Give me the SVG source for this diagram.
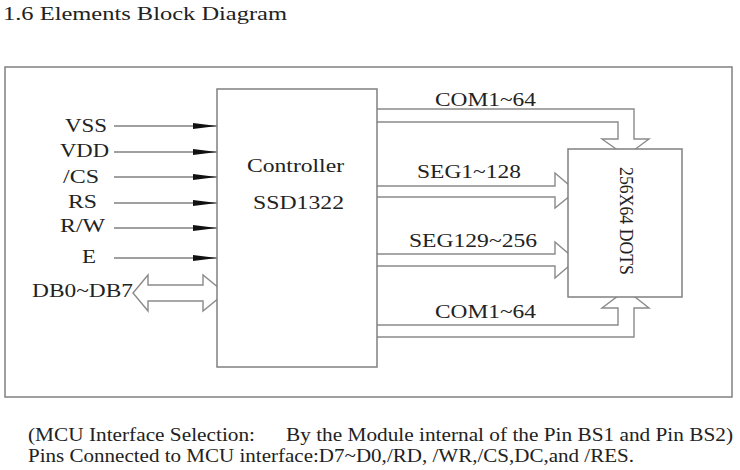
<svg xmlns="http://www.w3.org/2000/svg" width="740" height="470" viewBox="0 0 740 470">
<style>
text{font-family:"Liberation Serif","Times New Roman",serif;fill:#222;font-size:19px}
.box{fill:#fff;stroke:#808080;stroke-width:1.5}
.ln{stroke:#808080;stroke-width:1.4;fill:none}
.hollow{fill:#fff;stroke:#8a8a8a;stroke-width:1.4;stroke-linejoin:miter}
</style>
<defs>
<marker id="ah" markerUnits="userSpaceOnUse" markerWidth="26" markerHeight="8" refX="24" refY="4" orient="auto">
<path d="M0,1 L24,4 L0,7 Z" fill="#111"/>
</marker>
</defs>
<rect width="740" height="470" fill="#fff"/>
<text x="3" y="20" font-size="20" textLength="284" lengthAdjust="spacingAndGlyphs">1.6 Elements Block Diagram</text>
<g id="frame"><rect class="box" x="5" y="67" width="727" height="330"/></g>
<g id="connectors">
<line class="ln" x1="114" y1="126" x2="217" y2="126" marker-end="url(#ah)"/>
<line class="ln" x1="114" y1="152" x2="217" y2="152" marker-end="url(#ah)"/>
<line class="ln" x1="114" y1="177" x2="217" y2="177" marker-end="url(#ah)"/>
<line class="ln" x1="114" y1="203" x2="217" y2="203" marker-end="url(#ah)"/>
<line class="ln" x1="114" y1="228" x2="217" y2="228" marker-end="url(#ah)"/>
<line class="ln" x1="114" y1="258" x2="217" y2="258" marker-end="url(#ah)"/>
<path class="hollow" d="M133,293 L148,275 V285 H203 V275 L225,293 L203,311 V301 H148 V311 Z"/>
<path class="hollow" d="M370,109 H634 V139 H649 L626,156 L602,139 H618 V122 H370 Z"/>
<path class="hollow" d="M370,186 H555 V173 L576,191 L555,208 V197 H370 Z"/>
<path class="hollow" d="M370,254 H555 V242 L576,260 L555,278 V266 H370 Z"/>
<path class="hollow" d="M370,337 H634 V308 H649 L626,290 L602,308 H618 V325 H370 Z"/>
</g>
<g id="inputs">
<text x="65" y="132" textLength="42" lengthAdjust="spacingAndGlyphs">VSS</text>
<text x="60" y="157" textLength="49" lengthAdjust="spacingAndGlyphs">VDD</text>
<text x="63" y="183" textLength="36" lengthAdjust="spacingAndGlyphs">/CS</text>
<text x="68" y="208" textLength="29" lengthAdjust="spacingAndGlyphs">RS</text>
<text x="60" y="232" textLength="45" lengthAdjust="spacingAndGlyphs">R/W</text>
<text x="82" y="263" textLength="14" lengthAdjust="spacingAndGlyphs">E</text>
<text x="32" y="297" textLength="101" lengthAdjust="spacingAndGlyphs">DB0~DB7</text>
</g>
<g id="controller">
<rect class="box" x="217" y="89" width="160" height="278"/>
<text x="247" y="172" textLength="97" lengthAdjust="spacingAndGlyphs">Controller</text>
<text x="253" y="209" textLength="91" lengthAdjust="spacingAndGlyphs">SSD1322</text>
</g>
<g id="dots">
<rect class="box" x="568" y="149" width="114" height="148"/>
<text transform="translate(620,221) rotate(90)" text-anchor="middle" textLength="108" lengthAdjust="spacingAndGlyphs">256X64 DOTS</text>
</g>
<g id="labels">
<text x="435" y="106" textLength="101" lengthAdjust="spacingAndGlyphs">COM1~64</text>
<text x="417" y="178" textLength="104" lengthAdjust="spacingAndGlyphs">SEG1~128</text>
<text x="409" y="247" textLength="128" lengthAdjust="spacingAndGlyphs">SEG129~256</text>
<text x="435" y="318" textLength="101" lengthAdjust="spacingAndGlyphs">COM1~64</text>
</g>
<g id="notes">
<text x="28" y="441" font-size="16" textLength="227" lengthAdjust="spacingAndGlyphs">(MCU Interface Selection:</text>
<text x="286" y="441" font-size="16" textLength="447" lengthAdjust="spacingAndGlyphs">By the Module internal of the Pin BS1 and Pin BS2)</text>
<text x="28" y="462" font-size="16" textLength="606" lengthAdjust="spacingAndGlyphs">Pins Connected to MCU interface:D7~D0,/RD, /WR,/CS,DC,and /RES.</text>
</g>
</svg>
